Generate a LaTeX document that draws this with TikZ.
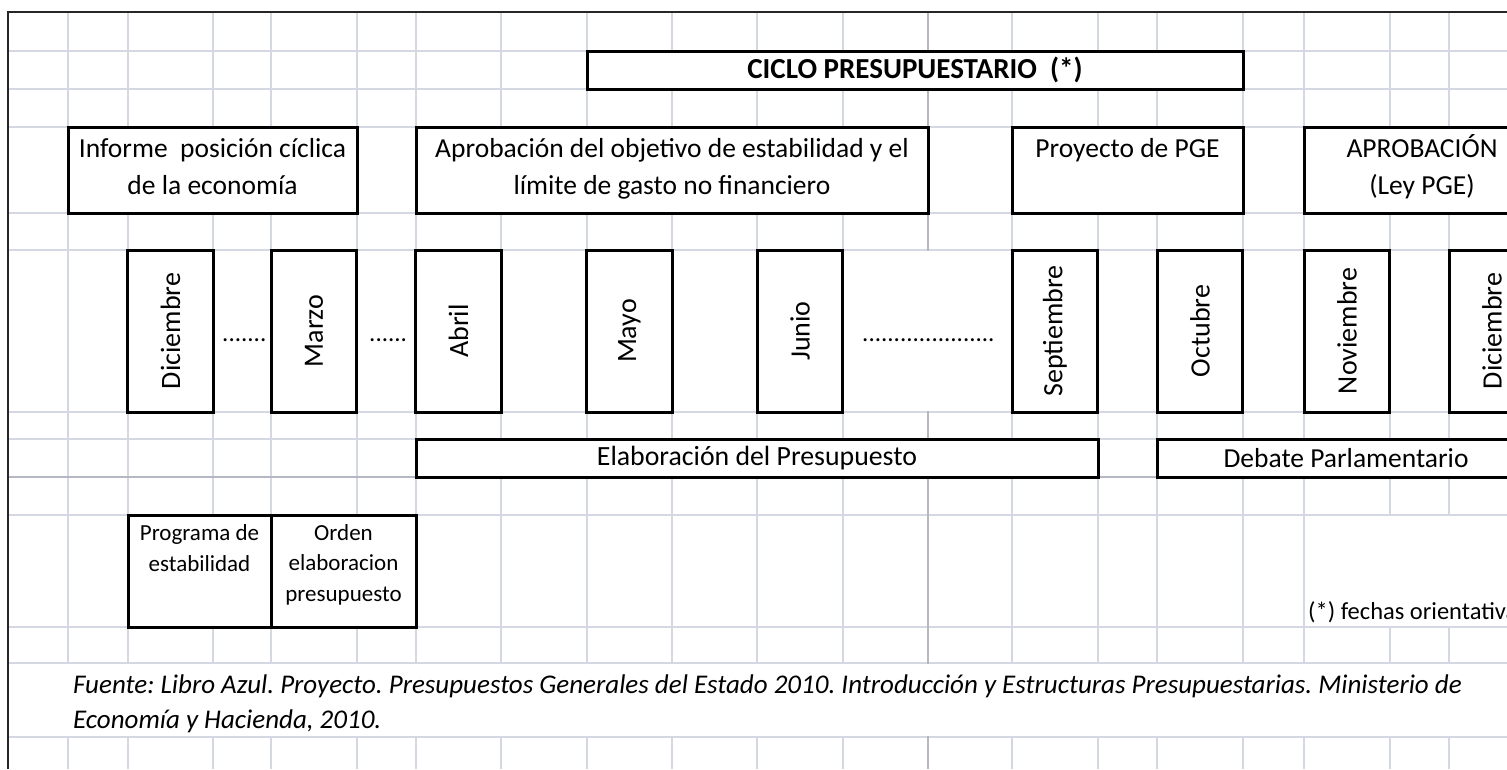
\documentclass[tikz,border=0pt]{standalone}
\usepackage{fontspec}
\setmainfont{Carlito}
\definecolor{gridgray}{RGB}{212,216,226}
\definecolor{breakgray}{RGB}{180,184,194}

\begin{document}
\frenchspacing
\begin{tikzpicture}[x=1pt, y=-1pt,
    box/.style={draw, line width=3pt, fill=white, inner sep=0pt},
    month/.style={box, rotate=90, minimum width=162, minimum height=85.5,
        font=\fontsize{28}{33}\selectfont},
    boxtext/.style={anchor=base, align=center, inner sep=0pt,
        font=\fontsize{27.5}{36.5}\selectfont},
    smalltext/.style={anchor=base, align=center, inner sep=0pt,
        font=\fontsize{23}{30.5}\selectfont},
    dotrow/.style={anchor=base west, inner sep=0pt, font=\fontsize{25}{30}\selectfont}]
    \useasboundingbox (0,0) rectangle (1507,769);
    \clip (0,0) rectangle (1507,769);

    % Sheet grid
    \fill[white] (0,0) rectangle (1507,769);
    \foreach \x in {68,128,213,271,357,416,501,587,672,757,843,1012,1098,1157,1243,1304,1390,1449}
        \draw[gridgray, line width=1.5pt] (\x,12) -- (\x,769);
    \foreach \y in {51,89,127,213,250,412,439,515,627,663,737}
        \draw[gridgray, line width=1.5pt] (8,\y) -- (1507,\y);
    \draw[breakgray, line width=2pt] (928,12) -- (928,769);
    \draw[breakgray, line width=2pt] (8,477) -- (1507,477);

    % Cells where text runs over the grid
    \fill[white] (844,251) rectangle (1011,411);
    \fill[white] (1305,516) rectangle (1507,626);
    \fill[white] (9,664) rectangle (1507,736);

    % Frame
    \draw[black!85, line width=2pt] (8,769) -- (8,12) -- (1507,12);

    % Title
    \node[box, minimum width=656, minimum height=38,
        font=\fontsize{29}{34}\selectfont\bfseries] (titulo) at (915,70) {CICLO PRESUPUESTARIO~~(*)};

    % Phases
    \node[box, minimum width=289, minimum height=86] (informe) at (212.5,170) {};
    \node[boxtext] (informe-t) at (212.5,194) {Informe~~posición cíclica\\de la economía};
    \node[box, minimum width=512, minimum height=86] (objetivo) at (672,170) {};
    \node[boxtext] (objetivo-t) at (672,194) {Aprobación del objetivo de estabilidad y el\\límite de gasto no financiero};
    \node[box, minimum width=231, minimum height=86] (proyecto) at (1127.5,170) {};
    \node[boxtext] (proyecto-t) at (1127.5,157) {Proyecto de PGE};
    \node[box, minimum width=236, minimum height=86] (ley) at (1422,170) {};
    \node[boxtext] (ley-t) at (1422,194) {APROBACIÓN\\(Ley PGE)};

    % Months
    \node[month] (dic1) at (170.5,331) {Diciembre};
    \node[month] (mar) at (314,331) {Marzo};
    \node[month] (abr) at (458.5,331) {Abril};
    \node[month] (may) at (629.5,331) {Mayo};
    \node[month] (jun) at (800,331) {Junio};
    \node[month] (sep) at (1055,331) {Septiembre};
    \node[month] (oct) at (1200,331) {Octubre};
    \node[month] (nov) at (1347,331) {Noviembre};
    \node[month] (dic2) at (1492,331) {Diciembre};

    % Gaps between months
    \node[dotrow] (gap1) at (222,341) {.......};
    \node[dotrow] (gap2) at (369,341) {......};
    \node[dotrow] (gap3) at (862,341) {.....................};

    % Stages
    \node[box, minimum width=682, minimum height=38,
        font=\fontsize{27.8}{32}\selectfont] (elab) at (757,458) {Elaboración del Presupuesto};
    \node[box, minimum width=378, minimum height=38,
        font=\fontsize{27.5}{32}\selectfont] (debate) at (1346,458) {Debate Parlamentario};

    % Documents
    \node[box, minimum width=143, minimum height=112] (programa) at (199.5,571) {};
    \node[smalltext] (programa-t) at (199.5,571) {Programa de\\estabilidad};
    \node[box, minimum width=145, minimum height=112] (orden) at (343.5,571) {};
    \node[smalltext] (orden-t) at (343.5,601) {Orden\\elaboracion\\presupuesto};

    % Notes
    \node[anchor=base west, inner sep=0pt, font=\fontsize{24.5}{28}\selectfont] (nota) at (1308,619) {(*) fechas orientativas};
    \node[anchor=base west, inner sep=0pt, align=left, font=\fontsize{27}{35}\selectfont\itshape] (fuente) at (73,728)
        {Fuente: Libro Azul. Proyecto. Presupuestos Generales del Estado 2010. Introducción y Estructuras Presupuestarias. Ministerio de\\Economía y Hacienda, 2010.};
\end{tikzpicture}
\end{document}
